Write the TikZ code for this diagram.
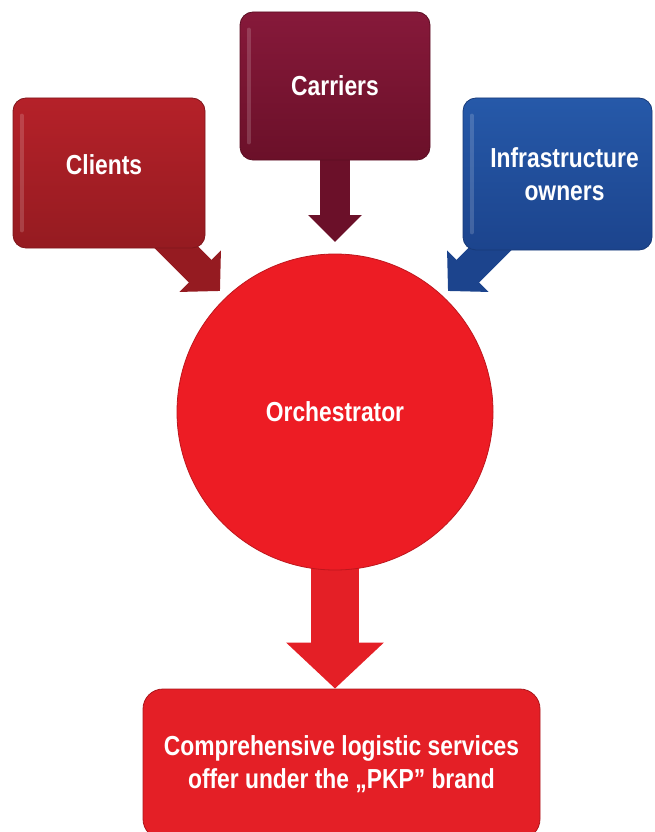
\documentclass[tikz,border=0pt]{standalone}
\usepackage{fontspec}
\setmainfont{Liberation Sans}[FakeStretch=0.83]
\usetikzlibrary{arrows.meta,calc}

\definecolor{clientred}{HTML}{B52129}
\definecolor{clientdark}{HTML}{951B21}
\definecolor{carrierred}{HTML}{86193A}
\definecolor{carrierdark}{HTML}{6B1029}
\definecolor{infrablue}{HTML}{2659A9}
\definecolor{infradark}{HTML}{1C448D}
\definecolor{orchred}{HTML}{ED1C24}
\definecolor{offerred}{HTML}{E41F26}

\pgfdeclarelayer{shafts}
\pgfsetlayers{shafts,main}

\begin{document}
\begin{tikzpicture}[x=1pt,y=-1pt,
  every node/.style={font=\bfseries\fontsize{27.5}{33}\selectfont, text=white, align=center},
  panel/.style={rounded corners=13pt, line width=0.8pt, inner sep=0pt},
  gloss/.style={white, opacity=0.16, line width=4pt, line cap=round},
  fatarrow/.style args={#1/#2/#3/#4}{draw=#1, line width=#2,
    -{Triangle[length=#3,width=#4]}}]

\useasboundingbox (0,0) rectangle (654,832);
\clip (0,0) rectangle (654,832);

% arrow tips that stop short of the orchestrator
\coordinate (ctip) at (220,291);
\coordinate (itip) at (448,291);
\coordinate (rtip) at (335,242);

% stakeholder panels
\node[panel, top color=clientred, bottom color=clientdark, draw=clientdark!85!black,
      minimum width=192pt, minimum height=150pt, text depth=16pt] (clients) at (109,173)
      {Clients\hspace*{10pt}};
\node[panel, top color=carrierred, bottom color=carrierdark, draw=carrierdark!85!black,
      minimum width=190pt, minimum height=148pt] (carriers) at (335,86) {Carriers};
\node[panel, top color=infrablue, bottom color=infradark, draw=infradark!85!black,
      minimum width=189pt, minimum height=152pt] (infra) at (557.5,174)
      {\hspace*{14pt}Infrastructure\\\hspace*{14pt}owners};

% orchestrator and the resulting offer
\node[circle, fill=orchred, draw=orchred!80!black, line width=0.8pt, inner sep=0pt,
      minimum size=316pt] (orch) at (335,412) {Orchestrator};
\node[panel, rounded corners=20pt, fill=offerred, draw=offerred!75!black,
      minimum width=397pt, minimum height=150pt] (offer) at (341.5,764)
      {Comprehensive logistic services\\offer under the „PKP” brand};

% glossy highlights along the left edges
\draw[gloss] ($(clients.north west)+(9,18)$) -- ($(clients.south west)+(9,-18)$);
\draw[gloss] ($(carriers.north west)+(9,18)$) -- ($(carriers.south west)+(9,-18)$);
\draw[gloss] ($(infra.north west)+(9,18)$) -- ($(infra.south west)+(9,-18)$);

% block arrows, shafts tucked under their source shapes
\begin{pgfonlayer}{shafts}
\draw[fatarrow=clientdark/32pt/28pt/57pt] ($(clients.south east)+(-55,-27)$) -- (ctip);
\draw[fatarrow=infradark/32pt/28pt/57pt] ($(infra.south west)+(55,-29)$) -- (itip);
\draw[fatarrow=carrierdark/30pt/27pt/52pt] ($(carriers.south)+(0,-6)$) -- (rtip);
\draw[fatarrow=offerred/48pt/46pt/95pt] ($(orch.south)+(0,-6)$) -- (orch.south |- offer.north);
\end{pgfonlayer}
\end{tikzpicture}
\end{document}
